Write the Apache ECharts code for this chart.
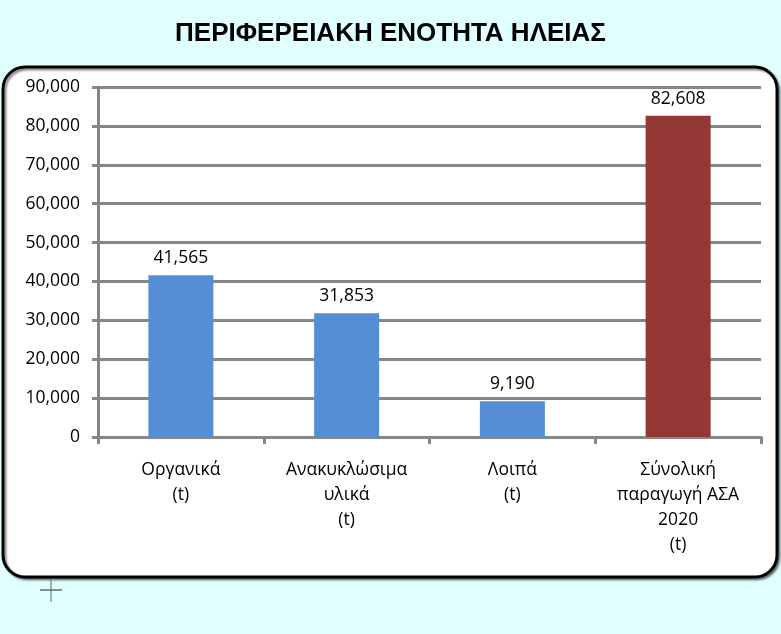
<!DOCTYPE html>
<html>
<head>
<meta charset="utf-8">
<script src="https://cdn.jsdelivr.net/npm/echarts@6/dist/echarts.min.js"></script>
<style>
  html, body { margin: 0; padding: 0; background: #e0ffff; }
  #main { width: 781px; height: 634px; }
</style>
</head>
<body>
<div id="main"></div>
<script>
// Data
const categories = [
  "Οργανικά\n(t)",
  "Ανακυκλώσιμα\nυλικά\n(t)",
  "Λοιπά\n(t)",
  "Σύνολική\nπαραγωγή ΑΣΑ\n2020\n(t)"
];
const values = [41565, 31853, 9190, 82608];
const barColors = ["#558ed5", "#558ed5", "#558ed5", "#953735"];
const titleText = "ΠΕΡΙΦΕΡΕΙΑΚΗ ΕΝΟΤΗΤΑ ΗΛΕΙΑΣ";

const fmt = v => v.toLocaleString("en-US");
const axisGray = "#868686";
const labelFont = "'Open Sans', 'Noto Sans', sans-serif";
const labelSize = 17.5;

const chart = echarts.init(document.getElementById("main"), null, { renderer: "canvas" });

const option = {
  animation: false,
  backgroundColor: "#e0ffff",
  title: {
    text: titleText,
    left: "center",
    top: 16,
    textStyle: {
      fontFamily: "'Liberation Sans', Arial, sans-serif",
      fontWeight: "bold",
      fontSize: 26,
      color: "#000"
    }
  },
  graphic: [
    {
      type: "rect",
      z: -10,
      shape: { x: 3, y: 67, width: 774, height: 510, r: 22 },
      style: {
        fill: "#fff",
        stroke: "#000",
        lineWidth: 3,
        shadowColor: "rgba(0,0,0,0.45)",
        shadowOffsetX: 2,
        shadowOffsetY: 2,
        shadowBlur: 2
      }
    },
    {
      type: "line",
      shape: { x1: 40, y1: 590, x2: 62, y2: 590 },
      style: { stroke: "#222", lineWidth: 1 }
    },
    {
      type: "line",
      shape: { x1: 51, y1: 580, x2: 51, y2: 602 },
      style: { stroke: "#666", lineWidth: 1 }
    }
  ],
  grid: {
    left: 98,
    right: 20,
    top: 87,
    bottom: 197,
    containLabel: false
  },
  xAxis: {
    type: "category",
    data: categories,
    axisLine: { show: true, lineStyle: { color: axisGray, width: 3 } },
    axisTick: {
      show: true,
      alignWithLabel: false,
      length: 7,
      lineStyle: { color: axisGray, width: 3 }
    },
    axisLabel: {
      interval: 0,
      margin: 21,
      fontFamily: labelFont,
      fontSize: labelSize,
      lineHeight: 25,
      color: "#000"
    }
  },
  yAxis: {
    type: "value",
    min: 0,
    max: 90000,
    interval: 10000,
    axisLine: { show: true, lineStyle: { color: axisGray, width: 3 } },
    axisTick: { show: true, length: 6, lineStyle: { color: axisGray, width: 3 } },
    axisLabel: {
      margin: 18,
      fontFamily: labelFont,
      fontSize: labelSize,
      color: "#000",
      formatter: v => fmt(v)
    },
    splitLine: { show: true, lineStyle: { color: axisGray, width: 3 } }
  },
  series: [
    {
      type: "bar",
      barWidth: 65,
      data: values.map((v, i) => ({ value: v, itemStyle: { color: barColors[i] } })),
      label: {
        show: true,
        position: "top",
        distance: 8,
        fontFamily: labelFont,
        fontSize: labelSize,
        color: "#000",
        formatter: p => fmt(p.value)
      }
    }
  ]
};

chart.setOption(option);
</script>
</body>
</html>
